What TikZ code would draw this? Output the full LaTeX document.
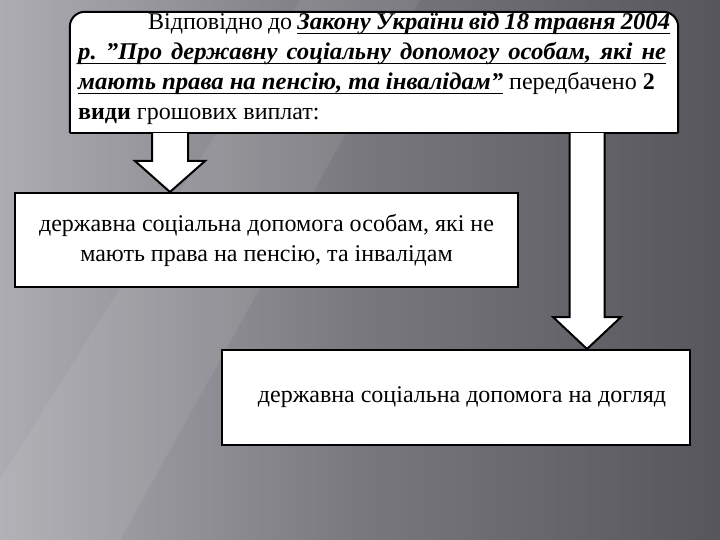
\documentclass[tikz,border=0pt]{standalone}
\usepackage{fontspec}
\setmainfont{Liberation Serif}[Ligatures=NoCommon]
\usepackage{graphicx}
\usetikzlibrary{calc}
\definecolor{bgL}{RGB}{172,172,178}
\definecolor{bgM}{RGB}{120,120,126}
\definecolor{bgR}{RGB}{86,86,92}
\newcommand\qq{\char"22\relax}
\newcommand\uw[1]{\setbox0\hbox{\scalebox{1.03}[1]{\bfseries\itshape #1}}\rlap{\rule[-4.5pt]{\wd0}{1.8pt}}\box0}
\newcommand\us{\leaders\hrule height -2.7pt depth 4.5pt\hskip 0.25em plus 0.2em minus 0.08em\relax}
\newcommand\blockarr[5]{% top, tip, shaft half width, head half width, head length
  \filldraw[arrowbox] ($(#1)+(-#3,0)$) -- ($(#2)+(-#3,-#5)$) -- ($(#2)+(-#4,-#5)$) -- (#2)
    -- ($(#2)+(#4,-#5)$) -- ($(#2)+(#3,-#5)$) -- ($(#1)+(#3,0)$);}
\begin{document}
\begin{tikzpicture}[x=1pt,y=-1pt,
  box/.style={draw=black,line width=2pt,fill=white,inner sep=0pt,align=center,
    font=\fontsize{24}{30}\selectfont},
  arrowbox/.style={fill=white,draw=black,line width=2pt,line join=miter},
  toptext/.style={inner sep=0pt,anchor=north west,align=left,
    font=\fontsize{24}{30}\selectfont}]
\useasboundingbox (0,0) rectangle (720,540);
\shade[left color=bgL,right color=bgR,middle color=bgM] (0,0) rectangle (720,540);
\fill[white,opacity=0.07] (300,0) -- (420,0) -- (120,540) -- (0,540) -- (0,480) -- cycle;
% top box
\node[inner sep=0pt,minimum width=608pt,minimum height=121pt] (t) at (374,72.5) {};
\fill[white,rounded corners=15pt] (t.south west) -- (t.north west) -- (t.north east) -- (t.south east);
\draw[line width=2pt,rounded corners=15pt] (t.south west) -- (t.north west) -- (t.north east) -- (t.south east);
\draw[line width=2pt] (t.south east) -- (t.south west);
\node[toptext] (tt) at (78,13) {%
\makebox[592pt][s]{\hspace*{70pt}Відповідно до \uw{Закону}\us\uw{України}\us\uw{від}\us\uw{18}\us\uw{травня}\us\uw{2004}}\\
\makebox[588pt][s]{\uw{р.}\us\uw{\qq Про}\us\uw{державну}\us\uw{соціальну}\us\uw{допомогу}\us\uw{особам,}\us\uw{які}\us\uw{не}}\\
\uw{мають}\us\uw{права}\us\uw{на}\us\uw{пенсію,}\us\uw{та}\us\uw{інвалідам\qq}\ передбачено \textbf{2}\\
\textbf{види} грошових виплат:};
% boxes
\node[box,minimum width=503pt,minimum height=94pt] (b2) at (266.5,240)
  {державна соціальна допомога особам, які не\\ мають права на пенсію, та інвалідам};
\node[box,minimum width=468pt,minimum height=95pt] (b3) at (456,397.5)
  {\hspace*{12pt}державна соціальна допомога на догляд};
% arrows
\coordinate (la) at (170,0);
\coordinate (ra) at (587,0);
\coordinate (l1) at (la |- t.south);
\coordinate (l2) at (la |- b2.north);
\coordinate (r1) at (ra |- t.south);
\coordinate (r2) at (ra |- b3.north);
\blockarr{l1}{l2}{18}{35}{31}
\blockarr{r1}{r2}{17.5}{34}{32}
\end{tikzpicture}
\end{document}
